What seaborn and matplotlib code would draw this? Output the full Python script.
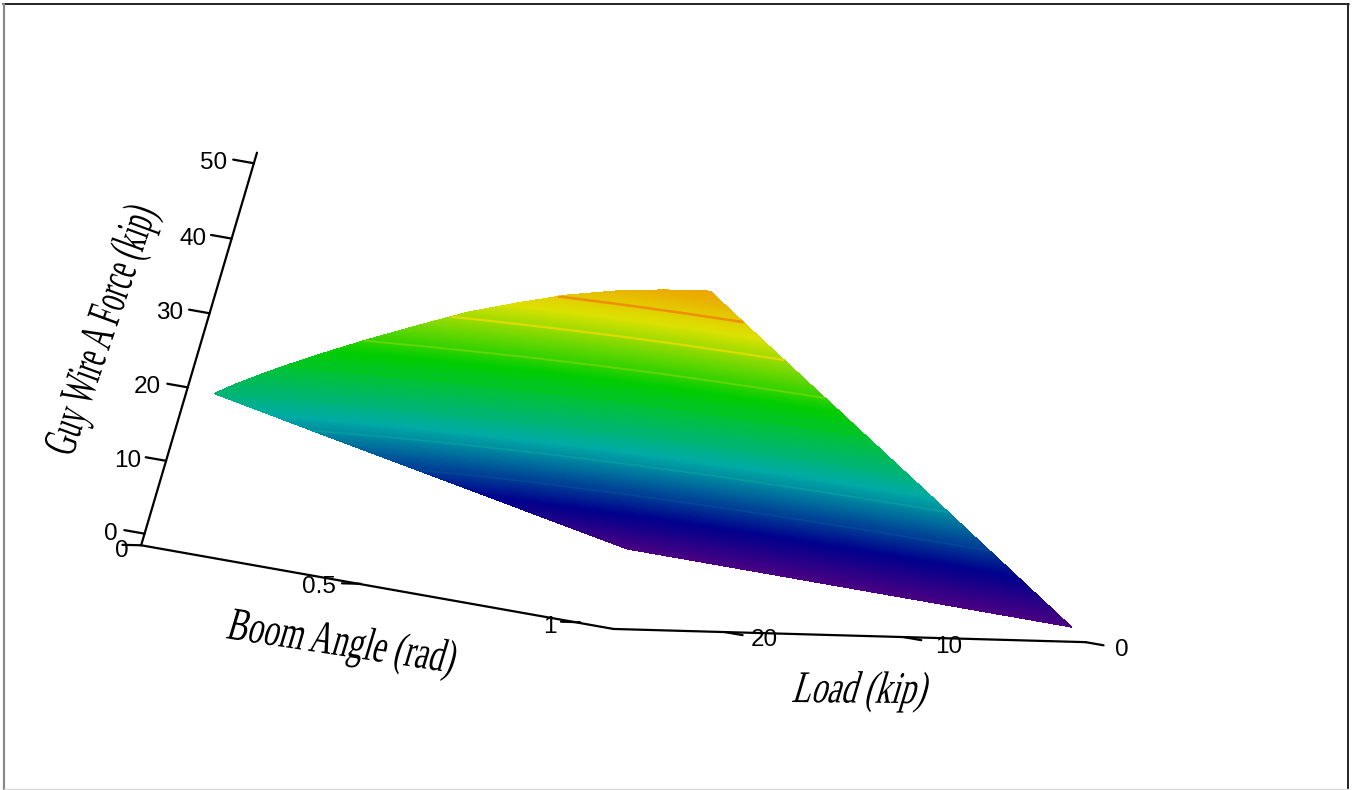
"""Guy wire force surface drawn through a fitted perspective camera."""
import numpy as np
import matplotlib
matplotlib.use('Agg')
import matplotlib.pyplot as plt
import seaborn as sns
from matplotlib.colors import LinearSegmentedColormap, Normalize
from matplotlib.patheffects import AbstractPathEffect
from matplotlib.transforms import Affine2D

boom_angle = [0.06, 0.10, 0.15, 0.20, 0.25, 0.35, 0.45, 0.55, 0.65, 0.75, 0.85, 0.95, 1.05]
load = [0, 10, 20, 26]
force = [
    [0, 0, 0, 0, 0, 0, 0, 0, 0, 0, 0, 0, 0],
    [7.6, 8.3, 9.0, 9.7, 10.3, 11.6, 12.7, 13.8, 14.7, 15.5, 16.2, 16.6, 17.0],
    [15.2, 16.5, 18.0, 19.4, 20.7, 23.2, 25.5, 27.7, 29.5, 31.1, 32.3, 33.2, 33.9],
    [19.8, 21.5, 23.4, 25.2, 26.9, 30.1, 33.1, 36.0, 38.3, 40.4, 42.0, 43.2, 44.1],
]
contour_levels = [10, 15, 20, 25, 30, 35, 40]
contour_shift = [1, 1.3, 1, 1.5, 2.5, 3.5, 5.5]

boom_ticks = [0, 0.5, 1]
boom_tick_labels = ['0', '0.5', '1']
load_ticks = [20, 10, 0]
load_tick_labels = ['20', '10', '0']
force_ticks = [0, 10, 20, 30, 40, 50]
force_tick_labels = ['0', '10', '20', '30', '40', '50']

# where the box of axes ends
boom_max = 1.09
load_max = 26
load_corner = 26.35
force_min = -1.6
force_max = 51.4

# colour map of the surface
stop_force = [0, 6.5, 17, 28, 38, 44.5, 50]
stop_colors = ['#4b0082', '#00008c', '#00aaa5', '#00cd00', '#dce100', '#eea000', '#f03c00']

# perspective camera (boom, load, force -> picture pixels), fitted to the axes
camera = np.array([
    [452.197134, -17.375907, 2.13512, 600.071267],
    [80.661974, 0.122102, -7.668329, 544.275671],
    [0.002692, 0.000993, -0.000422, 1.0],
])


def project(x, y, z):
    x, y, z = np.asarray(x, float), np.asarray(y, float), np.asarray(z, float)
    w = camera[2, 0]*x + camera[2, 1]*y + camera[2, 2]*z + camera[2, 3]
    px = (camera[0, 0]*x + camera[0, 1]*y + camera[0, 2]*z + camera[0, 3]) / w
    py = (camera[1, 0]*x + camera[1, 1]*y + camera[1, 2]*z + camera[1, 3]) / w
    return px, py


class Warp(AbstractPathEffect):
    """Keep the text start, replace the glyph axes (perspective look)."""
    def __init__(self, ux, uy, vx, vy, rotation=0):
        super().__init__()
        a = np.deg2rad(-rotation)
        undo = np.array([[np.cos(a), -np.sin(a)], [np.sin(a), np.cos(a)]])
        self.m = np.array([[ux, vx], [uy, vy]]) @ undo

    def draw_path(self, renderer, gc, tpath, affine, rgbFace=None):
        mtx = affine.get_matrix().copy()
        mtx[:2, :2] = self.m @ mtx[:2, :2]
        renderer.draw_path(gc, tpath, Affine2D(mtx), rgbFace)


def axis_line(ax, x, y, z, lw=1.6):
    px, py = project(x, y, z)
    sns.lineplot(x=px, y=py, sort=False, estimator=None, color='black', lw=lw, ax=ax, legend=False)


def main():
    sns.set_theme(style='white')
    plt.rcParams['font.family'] = ['Liberation Sans', 'DejaVu Sans']
    fig = plt.figure(figsize=(13.54, 7.90), dpi=100)
    ax = fig.add_axes([0, 0, 1, 1])

    cmap = LinearSegmentedColormap.from_list(
        'guy', [(f / 50, c) for f, c in zip(stop_force, stop_colors)], N=512)
    norm = Normalize(0, 50)

    T, L = np.meshgrid(boom_angle, load)
    Z = np.array(force, float)
    X_px, Y_px = project(T, L, Z)
    ax.contourf(X_px, Y_px, Z, levels=np.arange(-0.1, 50, 0.2), cmap=cmap, norm=norm,
                antialiased=False)
    line_colors = [cmap(norm(l + s)) for l, s in zip(contour_levels, contour_shift)]
    ax.contour(X_px, Y_px, Z, levels=contour_levels, colors=line_colors,
               linewidths=[1.2, 1.2, 1.2, 1.2, 1.4, 1.6, 1.8])

    # axes
    axis_line(ax, [0, boom_max], [load_max, load_corner], [force_min, force_min])
    axis_line(ax, [boom_max, boom_max], [load_corner, 0], [force_min, force_min])
    axis_line(ax, [0, 0], [load_max, load_max], [force_min, force_max])

    for t, s, off in zip(boom_ticks, boom_tick_labels, [(-19, 6), (-42, 3), (-30, 5)]):
        axis_line(ax, [t, t], [load_max, load_max + 1.1], [force_min, force_min])
        px, py = project(t, load_max, force_min)
        ax.text(px + off[0], py + off[1], s, fontsize=17.5, color='black', ha='center', va='center')
    for l, s, off in zip(load_ticks, load_tick_labels, [(39, 8), (45, 10), (36, 8)]):
        axis_line(ax, [boom_max, boom_max + 0.04], [l, l], [force_min, force_min])
        px, py = project(boom_max, l, force_min)
        ax.text(px + off[0], py + off[1], s, fontsize=17.5, color='black', ha='center', va='center')
    for f, s, off in zip(force_ticks, force_tick_labels, [-34, -38, -40, -40, -39, -40]):
        axis_line(ax, [0, -0.046], [load_max, load_max], [f, f])
        px, py = project(0, load_max, f)
        ax.text(px + off, py, s, fontsize=17.5, color='black', ha='center', va='center')

    # axis titles
    serif = ['Liberation Serif', 'DejaVu Serif']
    ax.text(72, 458, 'Guy Wire A Force (kip)', fontsize=20, family=serif, color='black',
            ha='left', va='baseline', rotation=70, rotation_mode='anchor',
            path_effects=[Warp(0.32, 0.935, -1.63, 0.6, rotation=70)])
    ax.text(225, 638, 'Boom Angle (rad)', fontsize=20, family=serif, color='black',
            ha='left', va='baseline', rotation=-9, rotation_mode='anchor',
            path_effects=[Warp(1.125, -0.172, 0.49, 1.63, rotation=-9)])
    ax.text(791, 702, 'Load (kip)', fontsize=20, family=serif, color='black',
            ha='left', va='baseline',
            path_effects=[Warp(1.135, -0.01, 0.49, 1.63)])

    # frame of the picture
    ax.plot([3, 1349], [4, 4], color='black', lw=1.2)
    ax.plot([4, 4], [4, 790], color='#8a8a8a', lw=1.6)
    ax.plot([1348, 1348], [4, 790], color='#222222', lw=1.4)
    ax.plot([4, 1349], [789, 789], color='#d8d8d8', lw=1.0)

    ax.set_xlim(0, 1354)
    ax.set_ylim(790, 0)
    ax.set_axis_off()

    fig.savefig('out.png', dpi=100)


if __name__ == '__main__':
    main()
